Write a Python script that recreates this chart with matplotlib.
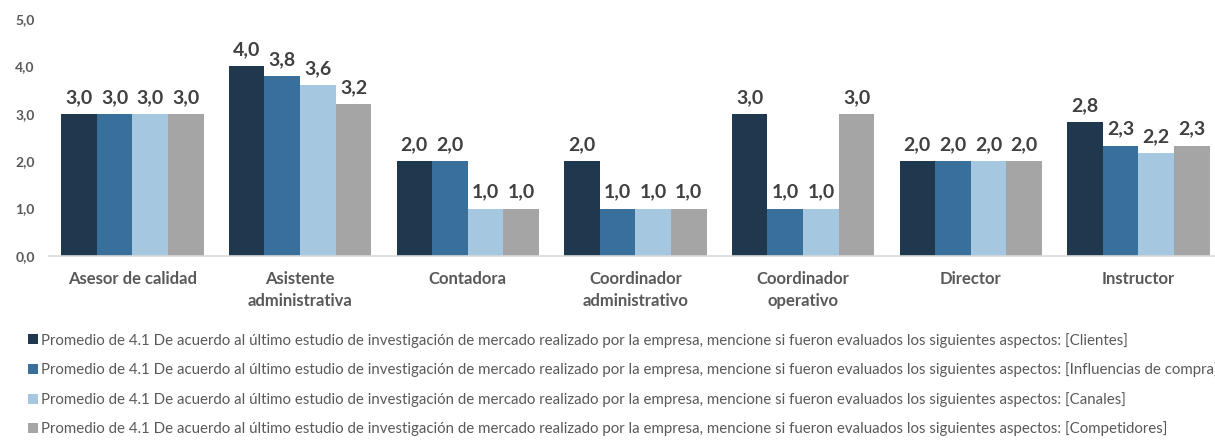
import matplotlib.pyplot as plt
import numpy as np

plt.rcParams['font.family'] = ['Lato', 'DejaVu Sans']

categories = ["Asesor de calidad", "Asistente\nadministrativa", "Contadora",
              "Coordinador\nadministrativo", "Coordinador\noperativo", "Director", "Instructor"]
clientes = [3.0, 4.0, 2.0, 2.0, 3.0, 2.0, 2.83]
influencias = [3.0, 3.8, 2.0, 1.0, 1.0, 2.0, 2.33]
canales = [3.0, 3.6, 1.0, 1.0, 1.0, 2.0, 2.17]
competidores = [3.0, 3.2, 1.0, 1.0, 3.0, 2.0, 2.33]

prefix = ("Promedio de 4.1 De acuerdo al último estudio de investigación de mercado realizado "
          "por la empresa, mencione si fueron evaluados los siguientes aspectos: ")
labels = [prefix + "[Clientes]", prefix + "[Influencias de compra]",
          prefix + "[Canales]", prefix + "[Competidores]"]
colors = ["#1F384E", "#396F9B", "#A6C7E0", "#A5A5A5"]

fig = plt.figure(figsize=(12.15, 4.45), dpi=100)
ax = fig.add_axes([0.040, 0.425, 0.966, 0.532])

x = np.arange(len(categories))
w = 0.2125
series = [clientes, influencias, canales, competidores]
handles = []
for i, vals in enumerate(series):
    bars = ax.bar(x + (i - 1.5) * w, vals, w, color=colors[i], label=labels[i])
    handles.append(bars)
    for b, v in zip(bars, vals):
        ax.text(b.get_x() + b.get_width() / 2, v + 0.17, f"{v:.1f}".replace(".", ","),
                ha="center", va="bottom", fontsize=14, fontweight="bold", color="#404040")

ax.set_xlim(-0.5, len(categories) - 0.5)
ax.set_ylim(0, 5)
ax.set_yticks(np.arange(0, 5.1, 1))
ax.set_yticklabels([f"{t:.1f}".replace(".", ",") for t in np.arange(0, 5.1, 1)])
ax.set_xticks(x)
ax.set_xticklabels(categories, linespacing=1.45)
for lbl in ax.get_xticklabels():
    lbl.set_fontsize(12)
    lbl.set_fontweight("bold")
    lbl.set_color("#595959")
for lbl in ax.get_yticklabels():
    lbl.set_fontsize(10)
    lbl.set_fontweight("bold")
    lbl.set_color("#595959")
ax.tick_params(length=0, pad=10)
ax.tick_params(axis="x", pad=11)
for s in ["top", "right", "left"]:
    ax.spines[s].set_visible(False)
ax.spines["bottom"].set_color("#D9D9D9")
ax.spines["bottom"].set_linewidth(1.2)

fig.legend(handles=handles, loc="upper left", bbox_to_anchor=(0.018, 0.266), ncol=1,
           frameon=False, fontsize=10.8, handlelength=0.65, handleheight=0.65,
           handletextpad=0.2, labelspacing=0.98, borderaxespad=0, labelcolor="#595959")

fig.savefig("out.png", dpi=100)
